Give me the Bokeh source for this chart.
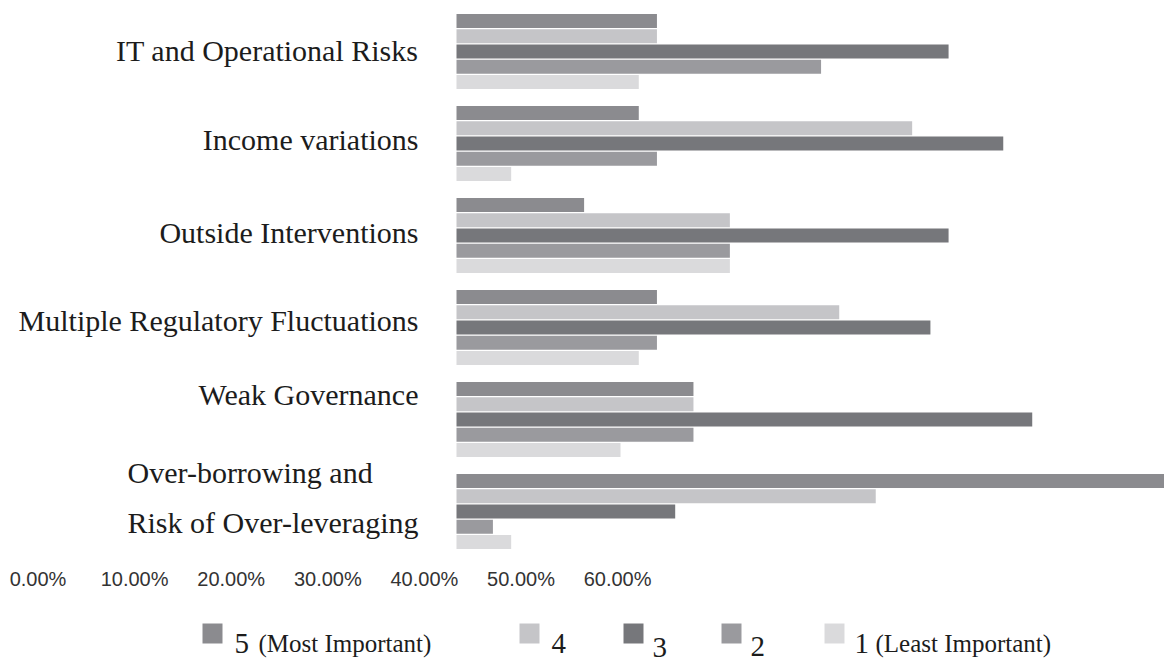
from bokeh.plotting import figure
from bokeh.models import Range1d, ColumnDataSource
from bokeh.core.properties import value
from bokeh.embed import file_html
from bokeh.resources import INLINE

# ---- data -------------------------------------------------------------
categories = [
    "IT and Operational Risks",
    "Income variations",
    "Outside Interventions",
    "Multiple Regulatory Fluctuations",
    "Weak Governance",
    "Over-borrowing and\nRisk of Over-leveraging",
]
ratings = ["5", "4", "3", "2", "1"]
rating_notes = ["(Most Important)", "", "", "", "(Least Important)"]

# share of respondents (%) giving each importance rating
rating_5 = [20.75, 18.87, 13.21, 20.75, 24.53, 76.00]
rating_4 = [20.75, 47.17, 28.30, 39.62, 24.53, 43.40]
rating_3 = [50.94, 56.60, 50.94, 49.06, 59.60, 22.64]
rating_2 = [37.74, 20.75, 28.30, 20.75, 24.53, 3.77]
rating_1 = [18.87, 5.66, 28.30, 18.87, 16.98, 5.66]

tick_values = [0, 10, 20, 30, 40, 50, 60]
tick_labels = ["0.00%", "10.00%", "20.00%", "30.00%", "40.00%", "50.00%", "60.00%"]

series = [rating_5, rating_4, rating_3, rating_2, rating_1]
colors = ["#8b8b8f", "#c5c5c8", "#76777b", "#9a9a9e", "#dadadc"]

# ---- layout constants ---------------------------------------------------
W, H = 1164, 662
PX_PER_PCT = 9.66          # horizontal scale of the bars
BAR_ORIGIN = 456           # pixel where the bars start
GROUP_PITCH = 92.0         # pixels between category groups
FIRST_GROUP = 51.0         # pixel centre of first group
BAR_STEP = 15.3 / GROUP_PITCH
BAR_H = 14.0 / GROUP_PITCH

p = figure(
    width=W, height=H,
    x_range=Range1d(-BAR_ORIGIN / PX_PER_PCT, (W - BAR_ORIGIN) / PX_PER_PCT),
    y_range=Range1d((H - FIRST_GROUP) / GROUP_PITCH, -FIRST_GROUP / GROUP_PITCH),
    x_axis_type=None, y_axis_type=None,
    output_backend="svg", toolbar_location=None,
    min_border=0, outline_line_color=None,
    background_fill_color="white", border_fill_color="white",
)
# page coordinates (pixels from top-left) for the scale labels and the key
p.extra_x_ranges = {
    "page": Range1d(0, W),
    "tick": Range1d(-37.5 / PX_PER_PCT, (W - 37.5) / PX_PER_PCT),
}
p.extra_y_ranges = {"page": Range1d(H, 0)}

# ---- bars -------------------------------------------------------------
for k, (vals, col) in enumerate(zip(series, colors)):
    ys = [i + (k - 2) * BAR_STEP for i in range(len(categories))]
    src = ColumnDataSource(dict(y=ys, right=vals))
    p.hbar(y="y", left=0, right="right", height=BAR_H, source=src,
           fill_color=col, line_color=None)

# ---- category labels --------------------------------------------------
label_nudge = [-1, -4, -3, -7, -25, -14]
cat_src = ColumnDataSource(dict(
    x=[0] * len(categories),
    y=[i + label_nudge[i] / GROUP_PITCH for i in range(len(categories))],
    text=categories,
))
p.text(x="x", y="y", text="text", source=cat_src, x_offset=-38,
       anchor="center_right", text_align="left", text_baseline="middle",
       text_font=value("Liberation Serif"), text_font_size=value("30px"),
       text_color="#1c1c1c", text_line_height=1.5)

# ---- percentage scale labels -------------------------------------------
tick_src = ColumnDataSource(dict(x=tick_values, y=[578] * len(tick_values), text=tick_labels))
p.text(x="x", y="y", text="text", source=tick_src,
       x_range_name="tick", y_range_name="page",
       text_align="center", text_baseline="middle",
       text_font=value("Liberation Sans"), text_font_size=value("20px"),
       text_color="#333333")

# ---- key ----------------------------------------------------------------
key_sq_x = [212, 529, 633, 731, 834]
key_num_x = [234, 551, 652, 750, 854]
key_num_dy = [0, 0, 4, 3, 0]
key_note_x = [258, 0, 0, 0, 875]
key_y = 633
key_base = 643
p.rect(x=key_sq_x, y=[key_y] * 5, width=20, height=20, fill_color=colors,
       line_color=None, x_range_name="page", y_range_name="page")
p.text(x=key_num_x, y=[key_base + d for d in key_num_dy], text=ratings,
       x_range_name="page", y_range_name="page",
       text_align="left", text_baseline="alphabetic",
       text_font=value("Liberation Serif"), text_font_size=value("29px"),
       text_color="#1c1c1c")
note_idx = [i for i, n in enumerate(rating_notes) if n]
p.text(x=[key_note_x[i] for i in note_idx], y=[key_base] * len(note_idx),
       text=[rating_notes[i] for i in note_idx],
       x_range_name="page", y_range_name="page",
       text_align="left", text_baseline="alphabetic",
       text_font=value("Liberation Serif"), text_font_size=value("25px"),
       text_color="#1c1c1c")

open("out.html", "w").write(file_html(p, INLINE))
